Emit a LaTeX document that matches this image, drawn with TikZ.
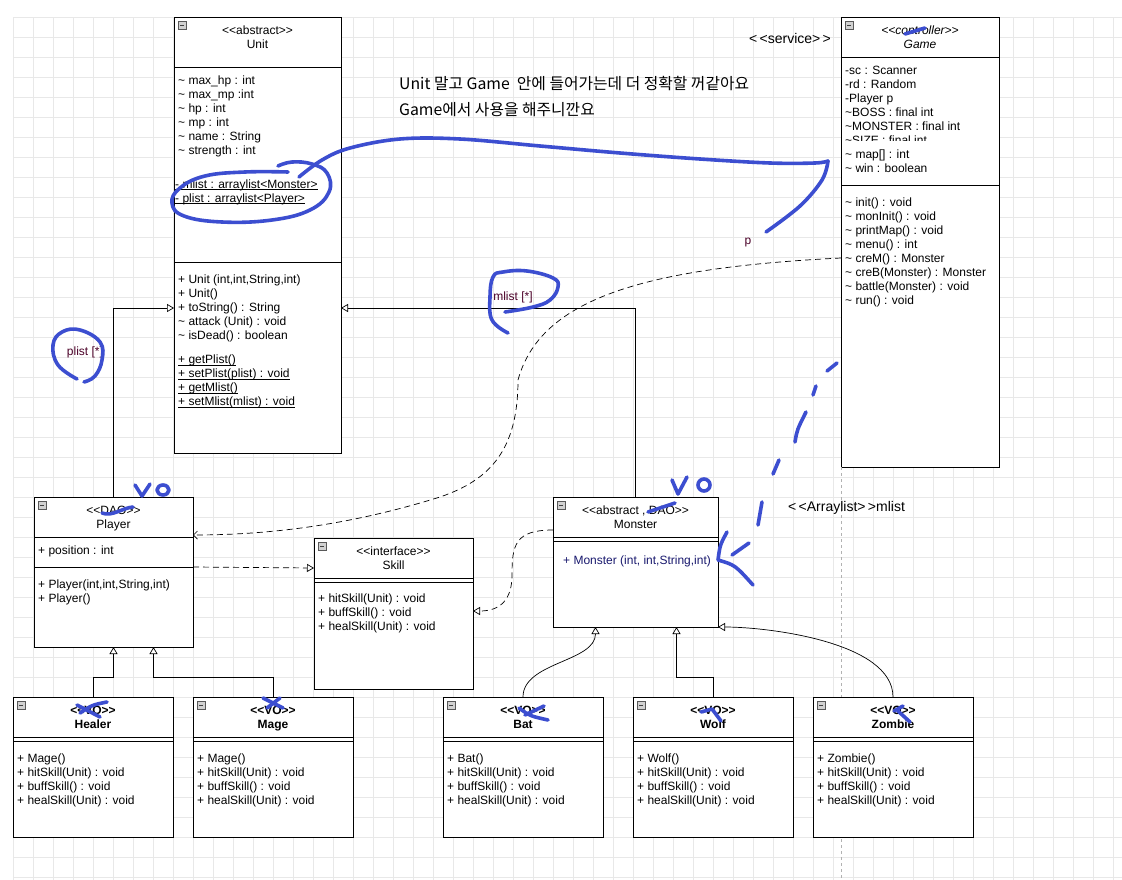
\documentclass[tikz,border=0pt]{standalone}
\usepackage{fontspec}
\setmainfont{Liberation Sans}
\newfontfamily\krfont{Noto Sans CJK KR}
\usetikzlibrary{positioning,arrows.meta}

\definecolor{penblue}{RGB}{60,78,208}
\definecolor{rolered}{RGB}{75,0,40}
\definecolor{ctornavy}{RGB}{25,25,110}
\definecolor{gridgray}{RGB}{232,232,232}
\newcommand{\tld}{\textasciitilde}
\newcommand{\stat}[1]{\underline{\smash{#1}}}

\tikzset{
  part/.style={draw, line width=0.9pt, fill=white, inner sep=0pt, outer sep=0pt, anchor=north west},
  titl/.style={inner sep=0pt, align=center, font=\fontsize{12}{14}\selectfont},
  body/.style={inner sep=0pt, align=left, font=\fontsize{12}{14}\selectfont},
  icon/.style={draw=gray!70!black, fill=gray!35, minimum size=8pt, inner sep=0pt,
    path picture={\draw[black!75, line width=0.8pt] ([xshift=1.8pt]path picture bounding box.west) -- ([xshift=-1.8pt]path picture bounding box.east);}},
  gen/.style={line width=0.7pt, -{Triangle[fill=white, length=7pt, width=8pt]}},
  real/.style={line width=0.7pt, dash pattern=on 6pt off 4pt, -{Triangle[fill=white, length=7pt, width=8pt]}},
  dep/.style={line width=0.7pt, dash pattern=on 6pt off 4pt, -{Straight Barb[length=4pt, width=8pt]}},
  role/.style={inner sep=0pt, text=rolered, font=\fontsize{12}{14}\selectfont},
  note/.style={inner sep=0pt, anchor=west, font=\fontsize{14}{16}\selectfont},
  pen/.style={penblue, line width=3.6pt, line cap=round, line join=round},
}

\begin{document}
\begin{tikzpicture}[x=1pt, y=-1pt]
 \useasboundingbox (0,0) rectangle (1122,880);
 \fill[white] (0,0) rectangle (1122,880);
 \begin{scope}[shift={(13,17)}]
  \draw[gridgray, line width=0.5pt, step=20pt] (0,0) grid (1109,863);
 \end{scope}

 % Unit
 \node[part, minimum width=167pt, minimum height=50pt] (unitH) at (174,17) {};
 \node[titl, below=9pt of unitH.north] (unitT) {<{}<abstract>{}>\\Unit};
 \node[icon, below right=4pt and 4pt of unitH.north west] (unitI) {};
 \node[part, minimum width=167pt, minimum height=195pt, below=0pt of unitH] (unitA) {};
 \node[body, below right=9pt and 4pt of unitA.north west] (unitAt) {\tld{} max\_hp : int\\\tld{} max\_mp :int\\\tld{} hp : int\\\tld{} mp : int\\\tld{} name : String\\\tld{} strength : int};
 \node[body, below right=121pt and 1pt of unitA.north west] (unitL) {\stat{- mlist : arraylist<Monster>}\\\stat{- plist : arraylist<Player>}};
 \node[part, minimum width=167pt, minimum height=191pt, below=0pt of unitA] (unitM) {};
 \node[body, below right=13pt and 4pt of unitM.north west] (unitMt) {+ Unit (int,int,String,int)\\+ Unit()\\+ toString() : String\\\tld{} attack (Unit) : void\\\tld{} isDead() : boolean\\[10pt]\stat{+ getPlist()}\\\stat{+ setPlist(plist) : void}\\\stat{+ getMlist()}\\\stat{+ setMlist(mlist) : void}};

 % Game
 \node[part, minimum width=158pt, minimum height=40pt] (gameH) at (841,17) {};
 \node[titl, font=\fontsize{12}{14}\selectfont\itshape, below=9pt of gameH.north] (gameT) {<{}<controller>{}>\\Game};
 \node[icon, below right=4pt and 4pt of gameH.north west] (gameI) {};
 \node[part, minimum width=158pt, minimum height=128pt, below=0pt of gameH] (gameA) {};
 \node[body, below right=9pt and 4pt of gameA.north west] (gameAt) {-sc : Scanner\\-rd : Random\\-Player p\\\tld BOSS : final int\\\tld MONSTER : final int\\\tld SIZE : final int};
 \node[fill=white, inner sep=0pt, outer sep=0pt, minimum width=157pt, minimum height=44pt, below right=84pt and 0.5pt of gameA.north west] (gameW) {};
 \node[body, below right=93pt and 4pt of gameA.north west] (gameAt2) {\tld{} map[] : int\\\tld{} win : boolean};
 \node[part, minimum width=158pt, minimum height=282pt, below=0pt of gameA] (gameM) {};
 \node[body, below right=13pt and 4pt of gameM.north west] (gameMt) {\tld{} init() : void\\\tld{} monInit() : void\\\tld{} printMap() : void\\\tld{} menu() : int\\\tld{} creM() : Monster\\\tld{} creB(Monster) : Monster\\\tld{} battle(Monster) : void\\\tld{} run() : void};
 \draw[gray!60, line width=0.5pt, dash pattern=on 3pt off 3pt] (gameM.south west) -- ++(0,413);

 % Player
 \node[part, minimum width=159pt, minimum height=40pt] (playerH) at (34,497) {};
 \node[titl, below=9pt of playerH.north] (playerT) {<{}<DAO>{}>\\Player};
 \node[icon, below right=4pt and 4pt of playerH.north west] (playerI) {};
 \node[part, minimum width=159pt, minimum height=30pt, below=0pt of playerH] (playerA) {};
 \node[body, below right=9pt and 4pt of playerA.north west] (playerAt) {+ position : int};
 \node[part, minimum width=159pt, minimum height=80pt, below=0pt of playerA] (playerM) {};
 \node[body, below right=13pt and 4pt of playerM.north west] (playerMt) {+ Player(int,int,String,int)\\+ Player()};

 % Skill
 \node[part, minimum width=159pt, minimum height=40pt] (skillH) at (314,538) {};
 \node[titl, below=9pt of skillH.north] (skillT) {<{}<interface>{}>\\Skill};
 \node[icon, below right=4pt and 4pt of skillH.north west] (skillI) {};
 \node[part, minimum width=159pt, minimum height=4pt, below=0pt of skillH] (skillA) {};
 \node[part, minimum width=159pt, minimum height=107pt, below=0pt of skillA] (skillM) {};
 \node[body, below right=12pt and 4pt of skillM.north west] (skillMt) {+ hitSkill(Unit) : void\\+ buffSkill() : void\\+ healSkill(Unit) : void};

 % Monster
 \node[part, minimum width=165pt, minimum height=40pt] (monsterH) at (553,497) {};
 \node[titl, below=9pt of monsterH.north] (monsterT) {<{}<abstract , DAO>{}>\\Monster};
 \node[icon, below right=4pt and 4pt of monsterH.north west] (monsterI) {};
 \node[part, minimum width=165pt, minimum height=4pt, below=0pt of monsterH] (monsterA) {};
 \node[part, minimum width=165pt, minimum height=86pt, below=0pt of monsterA] (monsterM) {};
 \node[body, text=ctornavy, below right=15pt and 10pt of monsterM.north west] (monsterMt) {+ Monster (int, int,String,int)};

 % VO classes
 \foreach \nm/\x/\ttl/\ctor in {healer/13/Healer/Mage, mage/193/Mage/Mage, bat/443/Bat/Bat, wolf/633/Wolf/Wolf, zombie/813/Zombie/Zombie} {
  \node[part, minimum width=160pt, minimum height=40pt] (\nm H) at (\x,697) {};
  \node[titl, font=\fontsize{12}{14}\selectfont\bfseries, below=9pt of \nm H.north] (\nm T) {<{}<VO>{}>\\\ttl};
  \node[icon, below right=4pt and 4pt of \nm H.north west] (\nm I) {};
  \node[part, minimum width=160pt, minimum height=4pt, below=0pt of \nm H] (\nm A) {};
  \node[part, minimum width=160pt, minimum height=96pt, below=0pt of \nm A] (\nm M) {};
  \node[body, below right=13pt and 4pt of \nm M.north west] (\nm Mt) {+ \ctor()\\+ hitSkill(Unit) : void\\+ buffSkill() : void\\+ healSkill(Unit) : void};
 }

 % relations
 \draw[gen] (playerH.north) |- ([yshift=-46pt]unitM.north west);
 \draw[gen] (monsterH.north) |- ([yshift=-46pt]unitM.north east);
 \draw[gen] (healerH.north) -- ++(0,-20) -| (playerM.south);
 \draw[gen] (mageH.north) -- ++(0,-20) -| ([xshift=40pt]playerM.south);
 \draw[gen] (batH.north) .. controls ++(0,-35) and ([xshift=-40pt, yshift=-35pt]monsterM.south) .. ([xshift=-40pt]monsterM.south);
 \draw[gen] (wolfH.north) -- ++(0,-20) -| ([xshift=41pt]monsterM.south);
 \draw[gen] (zombieH.north) .. controls ++(0,-55) and ([xshift=50pt]monsterM.south east) .. (monsterM.south east);
 \draw[real] (playerA.south east) -- ([yshift=10pt]skillH.south west);
 \draw[real] ([yshift=-33pt]monsterH.north west) .. controls (515,530) and (512,545) .. (512,575) .. controls (512,600) and (500,611) .. ([yshift=-29pt]skillM.north east);
 \draw[dep] ([yshift=-73pt]gameM.north west) .. controls (640,268) and (540,300) .. (518,380) .. controls (518,450) and (490,480) .. (440,497) .. controls (360,522) and (280,535) .. ([yshift=2pt]playerH.south east);
 \node[role] (plistL) at (85,352) {plist [*]};
 \node[role] (mlistL) at (513,297) {mlist [*]};
 \node[role] (pL) at (748,243) {p};

 % notes
 \node[note, font=\krfont\fontsize{15.8}{18}\selectfont] (noteA) at (399,84) {Unit 말고 Game\ \ 안에 들어가는데 더 정확할 꺼같아요};
 \node[note, font=\krfont\fontsize{15.8}{18}\selectfont] (noteB) at (399,110) {Game에서 사용을 해주니깐요};
 \node[note] (svcN) at (749,38) {<\,<service>\,>};
 \node[note] (arrN) at (788,508) {<\,<Arraylist>\,>mlist};

 % pen marks
 \draw[pen] plot[smooth, tension=0.7] coordinates {(288,172) (245,172) (205,176) (180,188) (172,203) (184,216) (222,222) (272,220) (310,210) (329,192) (327,173) (312,164) (292,162) (278,166)};
 \draw[pen] plot[smooth, tension=0.6] coordinates {(299,177) (322,160) (350,148) (400,139) (460,139) (540,146) (620,153) (700,159) (770,163) (815,163) (828,161)};
 \draw[pen] plot[smooth, tension=0.6] coordinates {(828,161) (822,180) (800,206) (766,232)};
 \draw[pen] plot[smooth, tension=0.7] coordinates {(508,333) (492,320) (490,297) (493,277) (503,272) (527,271) (553,278) (558,287) (550,300) (533,307) (505,312)};
 \draw[pen] plot[smooth, tension=0.7] coordinates {(77,379) (58,365) (53,345) (62,332) (80,330) (100,342) (102,360) (95,376) (84,382)};
 \draw[pen] (135,485) -- (142,496) -- (150,484);
 \draw[pen] (163,490) ellipse [x radius=6pt, y radius=5pt];
 \draw[pen] (672,480) -- (678,494) -- (687,477);
 \draw[pen] (704,485) ellipse [x radius=6pt, y radius=6pt];
 \draw[pen] (102,513) .. controls (112,517) and (122,508) .. (133,507);
 \draw[pen] (905,34) -- (925,28);
 \draw[pen] (648,512) .. controls (660,508) .. (675,503);
 \draw[pen] (727,532) .. controls (720,545) .. (718,560) .. controls (735,565) .. (753,585);
 \draw[pen] (749,543) -- (732,555);
 \draw[pen] (837,363) -- (827,371);
 \draw[pen] (816,386) -- (813,395);
 \draw[pen] (806,412) .. controls (797,430) .. (795,442);
 \draw[pen] (779,460) -- (773,474);
 \draw[pen] (762,502) -- (758,525);
 \draw[pen] (77,705) -- (100,717);
 \draw[pen] (80,713) .. controls (92,705) .. (107,702);
 \draw[pen] (263,698) -- (283,708);
 \draw[pen] (267,708) -- (280,698);
 \draw[pen] (519,708) .. controls (530,716) .. (548,720);
 \draw[pen] (525,715) -- (544,706);
 \draw[pen] (701,712) -- (712,709) -- (721,721);
 \draw[pen] (894,711) -- (903,706);
 \draw[pen] (898,711) -- (910,722);
\end{tikzpicture}
\end{document}
